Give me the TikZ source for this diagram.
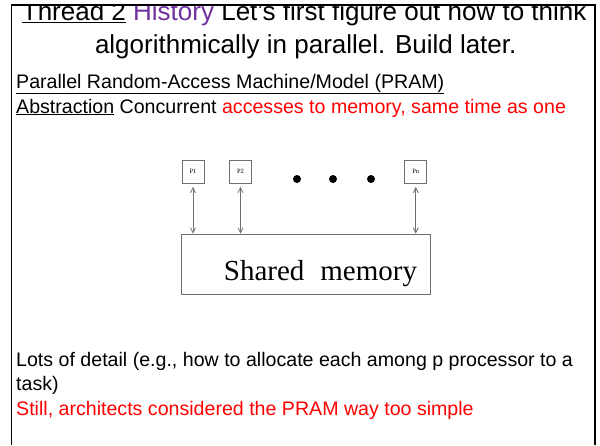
\documentclass[tikz,border=0pt]{standalone}
\usepackage{fontspec}
\setmainfont{Liberation Sans}
\newfontfamily\memfont{Liberation Serif}
\usetikzlibrary{arrows.meta}
\definecolor{hist}{HTML}{7030A0}
\definecolor{alert}{HTML}{FF0000}
\definecolor{pen}{HTML}{707070}
\tikzset{%
    frm/.style={line width = 1.6pt},
    ttl/.style={inner sep=0pt, font=\fontsize{26}{30}\selectfont},
    txt/.style={inner sep=0pt, anchor=base west, font=\fontsize{19.6}{23}\selectfont},
    proc/.style={draw=pen, line width=0.8pt, minimum width=22pt, minimum height=23pt, inner sep=0pt,
        font=\memfont\fontsize{6.5}{6.5}\selectfont},
    mem/.style={draw=pen, line width=0.8pt, minimum width=249pt, minimum height=60pt},
    dot/.style={circle, fill=black, inner sep=0pt, minimum size=8pt},
    acc/.style={pen, line width = 0.8pt, {Straight Barb[length=5pt,width=5pt]}-{Straight Barb[length=5pt,width=5pt]}, shorten <=3.5pt}
}
\begin{document}
\begin{tikzpicture}[x=1pt,y=-1pt]
    \useasboundingbox (0,0) rectangle (600,445);
    \begin{scope}
    \clip (0,5) rectangle (600,445);
    \node[ttl, anchor=base west] (head) at (21.7,20.7) {\underline{Thread 2} \textcolor{hist}{History} Let’s first figure out how to think};
    \end{scope}
    \node[ttl, anchor=base east] (head2) at (516.7,53) {algorithmically in parallel. Build later.};
    \node[txt] (pram) at (16,88) {\underline{Parallel Random-Access Machine/Model (PRAM)}};
    \node[txt] (abs) at (16,113) {\underline{Abstraction} Concurrent \textcolor{alert}{accesses to memory, same time as one}};
    \node[proc] (p1) at (193,171.5) {P1};
    \node[proc] (p2) at (240.5,171.5) {P2};
    \node[proc] (pn) at (415.7,171.5) {Pn};
    \foreach \x/\n in {297/1,333/2,371/3}
        \node[dot] (d\n) at (\x,179) {};
    \node[mem] (sm) at (306.2,264) {};
    \node[inner sep=0pt, anchor=base, font=\memfont\fontsize{29}{30}\selectfont] (smtxt) at (320.5,280) {Shared\hspace{0.55em}memory};
    \foreach \p in {p1,p2,pn}
        \draw[acc] (\p.south) -- (\p.south |- sm.north);
    \node[txt] (lots) at (16,366.7) {Lots of detail (e.g., how to allocate each among p processor to a};
    \node[txt] (task) at (16,390.7) {task)};
    \node[txt, text=alert] (still) at (16,415) {Still, architects considered the PRAM way too simple};
    \draw[frm] (11.5,445) |- (595,5) -- (595,445);
\end{tikzpicture}
\end{document}
